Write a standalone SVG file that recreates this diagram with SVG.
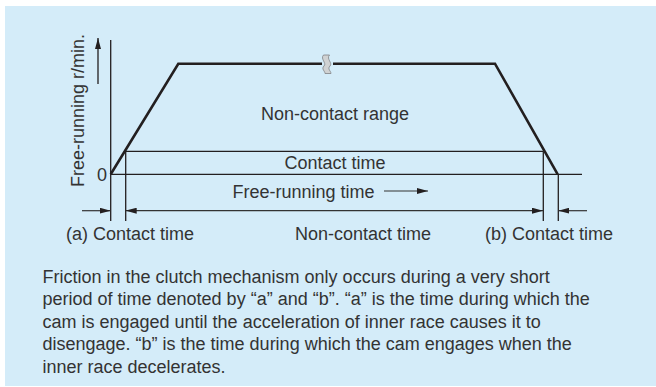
<svg xmlns="http://www.w3.org/2000/svg" width="656" height="387" viewBox="0 0 656 387">
<style>
.t{font-family:"Liberation Sans",Arial,Helvetica,sans-serif;font-size:18px;fill:#333}
.ln{stroke:#231f20;stroke-width:1.3;fill:none}
.dim{stroke:#333;stroke-width:1.2;fill:none}
.crv{stroke:#231f20;stroke-width:2.6;fill:none;stroke-linejoin:miter}
</style>
<defs>
<marker id="ah" viewBox="0 0 11 6" refX="11" refY="3" markerWidth="11" markerHeight="6" orient="auto-start-reverse" markerUnits="userSpaceOnUse"><path d="M0,0L11,3L0,6z" fill="#231f20"/></marker>
</defs>
<rect x="5" y="6" width="651" height="380" fill="#d4ecf9"/>
<g id="axes">
<line class="ln" x1="110.7" y1="40" x2="110.7" y2="221"/>
<line class="ln" x1="110.7" y1="174.3" x2="582" y2="174.3"/>
<line x1="98" y1="84" x2="98" y2="38" class="ln" marker-end="url(#ah)"/>
<text class="t" transform="translate(84,187) rotate(-90)">Free-running r/min.</text>
<text class="t" x="102" y="181" text-anchor="middle">0</text>
</g>
<g id="curve">
<polyline class="crv" points="110.7,174.3 178.3,63.7 322,63.7"/>
<polyline class="crv" points="333,63.7 495,63.7 557.7,174.3"/>
<path d="M323.5,55 C320,59 327,63 324,66 C321,69 325,71 325,73.5 L331,73.5 C331,71 327,69 330,66 C333,63 326,59 329.5,55 Z" fill="#d0d2d3" stroke="#808285" stroke-width="0.8"/>
</g>
<g id="non-contact-range">
<text class="t" x="335" y="120" text-anchor="middle">Non-contact range</text>
</g>
<g id="contact-time">
<line class="ln" x1="125.7" y1="151.3" x2="543.3" y2="151.3"/>
<line class="ln" x1="125.7" y1="151.3" x2="125.7" y2="221"/>
<line class="ln" x1="543.3" y1="151.3" x2="543.3" y2="221"/>
<line class="ln" x1="558.3" y1="174.3" x2="558.3" y2="221"/>
<text class="t" x="335" y="169" text-anchor="middle">Contact time</text>
</g>
<g id="free-running-time">
<text class="t" x="232.5" y="198">Free-running time</text>
<line class="dim" x1="384" y1="191" x2="428" y2="191" marker-end="url(#ah)"/>
</g>
<g id="connectors">
<line class="dim" x1="82" y1="210.7" x2="110.7" y2="210.7" marker-end="url(#ah)"/>
<line class="dim" x1="125.7" y1="210.7" x2="543" y2="210.7" marker-start="url(#ah)" marker-end="url(#ah)"/>
<line class="dim" x1="587" y1="210.7" x2="558.3" y2="210.7" marker-end="url(#ah)"/>
</g>
<g id="labels">
<text class="t" x="66" y="240">(a) Contact time</text>
<text class="t" x="363" y="240" text-anchor="middle">Non-contact time</text>
<text class="t" x="485" y="240">(b) Contact time</text>
</g>
<g id="caption">
<text class="t" x="42.5" y="282.5">Friction in the clutch mechanism only occurs during a very short</text>
<text class="t" x="42.5" y="305">period of time denoted by “a” and “b”. “a” is the time during which the</text>
<text class="t" x="42.5" y="327.5">cam is engaged until the acceleration of inner race causes it to</text>
<text class="t" x="42.5" y="350">disengage. “b” is the time during which the cam engages when the</text>
<text class="t" x="42.5" y="372.5">inner race decelerates.</text>
</g>
</svg>
